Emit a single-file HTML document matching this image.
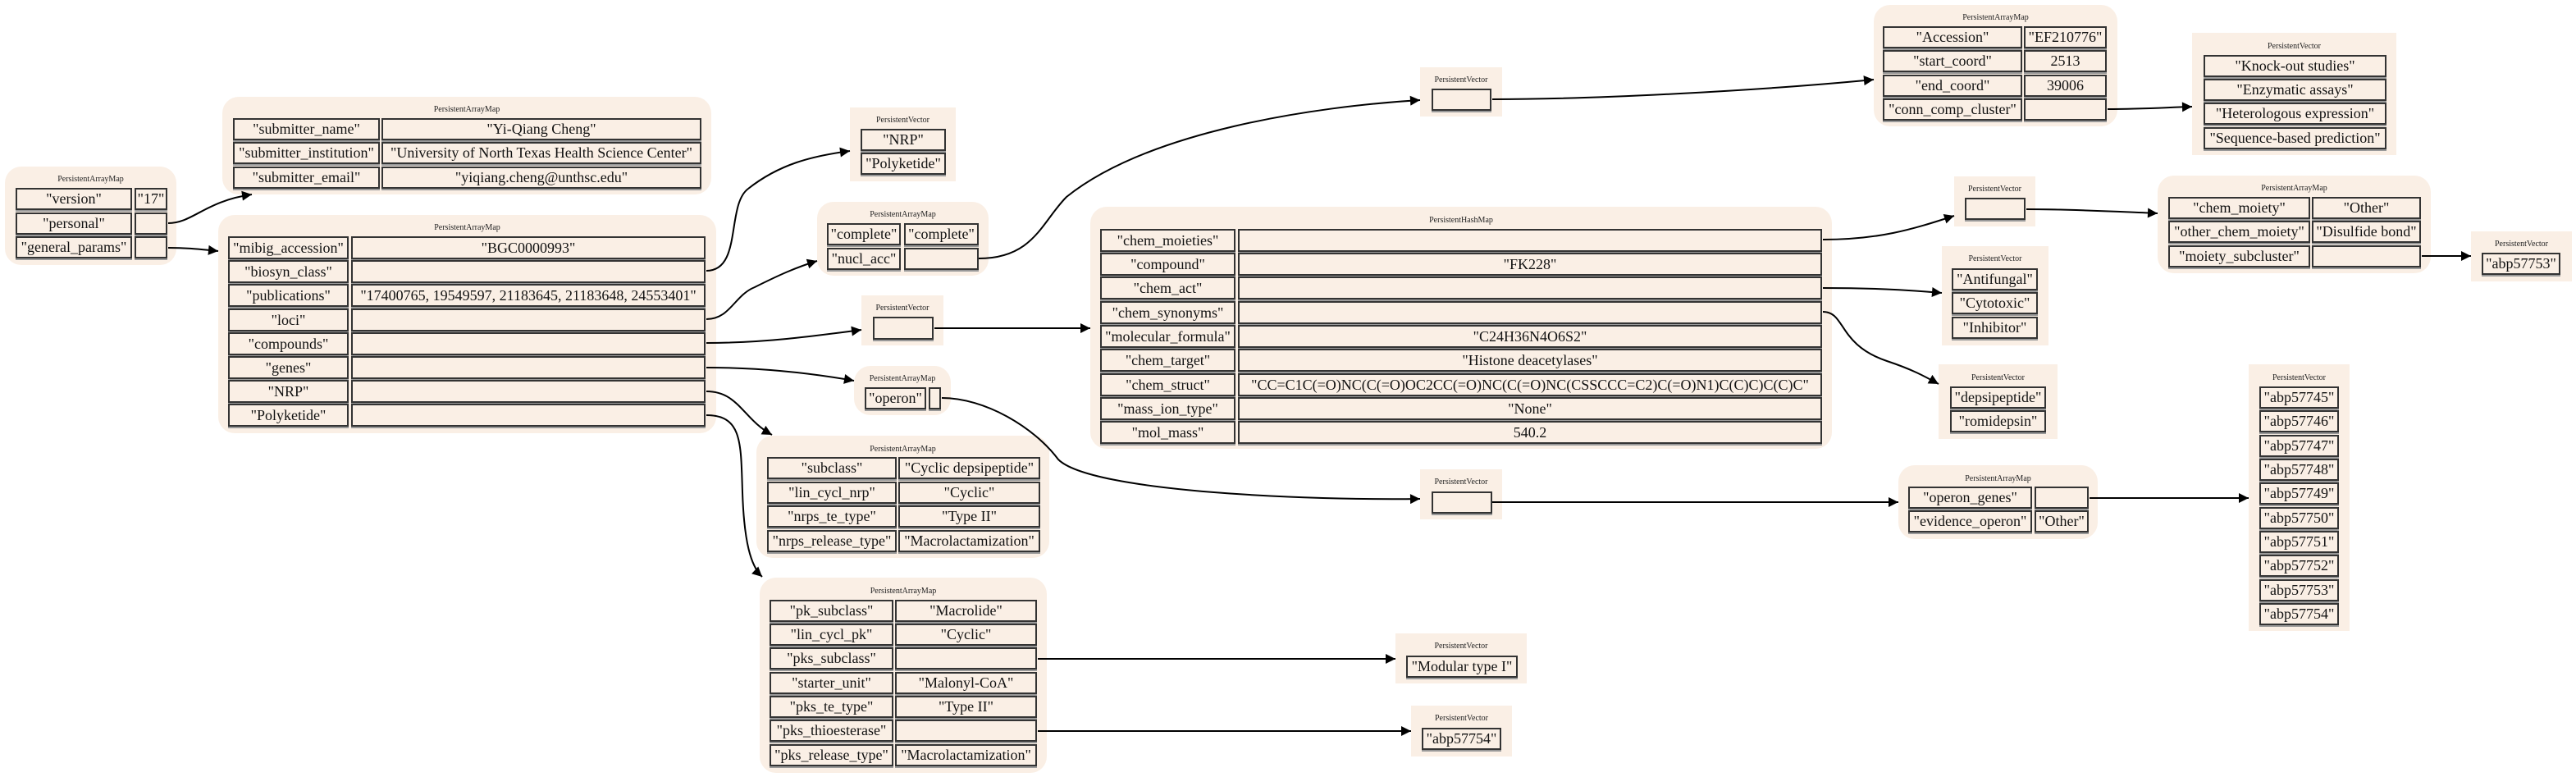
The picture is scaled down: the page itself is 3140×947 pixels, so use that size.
<!DOCTYPE html>
<html><head><meta charset="utf-8">
<style>
html,body{margin:0;padding:0;background:#fff;}
body{width:3140px;height:947px;position:relative;overflow:hidden;font-family:"Liberation Serif",serif;}
.b{position:absolute;background:#faefe5;}
.r{border-radius:20px;}
.t{position:absolute;font-size:10px;color:#222;text-align:center;white-space:nowrap;}
.c{position:absolute;box-sizing:border-box;border:2px solid #333;background:#faefe5;font-size:18px;display:flex;align-items:center;justify-content:center;white-space:nowrap;color:#111;overflow:visible;box-shadow:0 2px 0 #999;}
svg{position:absolute;left:0;top:0;}
</style></head><body>

<!-- left map -->
<div class="b r" style="left:6px;top:203px;width:209px;height:120px"></div>
<div class="t" style="left:6px;top:213px;width:209px">PersistentArrayMap</div>
<div class="c" style="left:19px;top:229px;width:142px;height:27px">"version"</div>
<div class="c" style="left:164px;top:229px;width:40px;height:27px">"17"</div>
<div class="c" style="left:19px;top:259px;width:142px;height:27px">"personal"</div>
<div class="c" style="left:164px;top:259px;width:40px;height:27px"></div>
<div class="c" style="left:19px;top:288px;width:142px;height:27px">"general_params"</div>
<div class="c" style="left:164px;top:288px;width:40px;height:27px"></div>

<!-- submitter -->
<div class="b r" style="left:271px;top:118px;width:596px;height:119px"></div>
<div class="t" style="left:271px;top:128px;width:596px">PersistentArrayMap</div>
<div class="c" style="left:284px;top:144px;width:179px;height:27px">"submitter_name"</div>
<div class="c" style="left:465px;top:144px;width:390px;height:27px">"Yi-Qiang Cheng"</div>
<div class="c" style="left:284px;top:173px;width:179px;height:27px">"submitter_institution"</div>
<div class="c" style="left:465px;top:173px;width:390px;height:27px">"University of North Texas Health Science Center"</div>
<div class="c" style="left:284px;top:203px;width:179px;height:27px">"submitter_email"</div>
<div class="c" style="left:465px;top:203px;width:390px;height:27px">"yiqiang.cheng@unthsc.edu"</div>

<!-- general params -->
<div class="b r" style="left:266px;top:262px;width:607px;height:266px"></div>
<div class="t" style="left:266px;top:272px;width:607px">PersistentArrayMap</div>
<div class="c" style="left:278px;top:288px;width:147px;height:28px">"mibig_accession"</div>
<div class="c" style="left:428px;top:288px;width:432px;height:28px">"BGC0000993"</div>
<div class="c" style="left:278px;top:317px;width:147px;height:28px">"biosyn_class"</div>
<div class="c" style="left:428px;top:317px;width:432px;height:28px"></div>
<div class="c" style="left:278px;top:346px;width:147px;height:28px">"publications"</div>
<div class="c" style="left:428px;top:346px;width:432px;height:28px">"17400765, 19549597, 21183645, 21183648, 24553401"</div>
<div class="c" style="left:278px;top:376px;width:147px;height:28px">"loci"</div>
<div class="c" style="left:428px;top:376px;width:432px;height:28px"></div>
<div class="c" style="left:278px;top:405px;width:147px;height:28px">"compounds"</div>
<div class="c" style="left:428px;top:405px;width:432px;height:28px"></div>
<div class="c" style="left:278px;top:434px;width:147px;height:28px">"genes"</div>
<div class="c" style="left:428px;top:434px;width:432px;height:28px"></div>
<div class="c" style="left:278px;top:463px;width:147px;height:28px">"NRP"</div>
<div class="c" style="left:428px;top:463px;width:432px;height:28px"></div>
<div class="c" style="left:278px;top:492px;width:147px;height:28px">"Polyketide"</div>
<div class="c" style="left:428px;top:492px;width:432px;height:28px"></div>

<!-- NRP vector -->
<div class="b" style="left:1036px;top:131px;width:129px;height:90px"></div>
<div class="t" style="left:1036px;top:141px;width:129px">PersistentVector</div>
<div class="c" style="left:1049px;top:157px;width:104px;height:27px">"NRP"</div>
<div class="c" style="left:1049px;top:186px;width:104px;height:27px">"Polyketide"</div>

<!-- complete map -->
<div class="b r" style="left:996px;top:246px;width:209px;height:90px"></div>
<div class="t" style="left:996px;top:256px;width:209px">PersistentArrayMap</div>
<div class="c" style="left:1008px;top:272px;width:90px;height:27px">"complete"</div>
<div class="c" style="left:1102px;top:272px;width:91px;height:27px">"complete"</div>
<div class="c" style="left:1008px;top:302px;width:90px;height:27px">"nucl_acc"</div>
<div class="c" style="left:1102px;top:302px;width:91px;height:27px"></div>

<!-- compounds PV -->
<div class="b" style="left:1050px;top:360px;width:100px;height:61px"></div>
<div class="t" style="left:1050px;top:370px;width:100px">PersistentVector</div>
<div class="c" style="left:1064px;top:386px;width:74px;height:28px"></div>

<!-- operon map -->
<div class="b r" style="left:1041px;top:446px;width:118px;height:60px"></div>
<div class="t" style="left:1041px;top:456px;width:118px">PersistentArrayMap</div>
<div class="c" style="left:1054px;top:472px;width:75px;height:27px">"operon"</div>
<div class="c" style="left:1132px;top:472px;width:15px;height:27px"></div>

<!-- top PV -->
<div class="b" style="left:1731px;top:82px;width:100px;height:60px"></div>
<div class="t" style="left:1731px;top:92px;width:100px">PersistentVector</div>
<div class="c" style="left:1745px;top:108px;width:73px;height:27px"></div>

<!-- hashmap -->
<div class="b r" style="left:1329px;top:252px;width:904px;height:295px"></div>
<div class="t" style="left:1329px;top:263px;width:904px">PersistentHashMap</div>
<div class="c" style="left:1341px;top:279px;width:165px;height:28px">"chem_moieties"</div>
<div class="c" style="left:1509px;top:279px;width:712px;height:28px"></div>
<div class="c" style="left:1341px;top:308px;width:165px;height:28px">"compound"</div>
<div class="c" style="left:1509px;top:308px;width:712px;height:28px">"FK228"</div>
<div class="c" style="left:1341px;top:337px;width:165px;height:28px">"chem_act"</div>
<div class="c" style="left:1509px;top:337px;width:712px;height:28px"></div>
<div class="c" style="left:1341px;top:367px;width:165px;height:28px">"chem_synonyms"</div>
<div class="c" style="left:1509px;top:367px;width:712px;height:28px"></div>
<div class="c" style="left:1341px;top:396px;width:165px;height:28px">"molecular_formula"</div>
<div class="c" style="left:1509px;top:396px;width:712px;height:28px">"C24H36N4O6S2"</div>
<div class="c" style="left:1341px;top:425px;width:165px;height:28px">"chem_target"</div>
<div class="c" style="left:1509px;top:425px;width:712px;height:28px">"Histone deacetylases"</div>
<div class="c" style="left:1341px;top:455px;width:165px;height:28px">"chem_struct"</div>
<div class="c" style="left:1509px;top:455px;width:712px;height:28px">"CC=C1C(=O)NC(C(=O)OC2CC(=O)NC(C(=O)NC(CSSCCC=C2)C(=O)N1)C(C)C)C(C)C"</div>
<div class="c" style="left:1341px;top:484px;width:165px;height:28px">"mass_ion_type"</div>
<div class="c" style="left:1509px;top:484px;width:712px;height:28px">"None"</div>
<div class="c" style="left:1341px;top:513px;width:165px;height:28px">"mol_mass"</div>
<div class="c" style="left:1509px;top:513px;width:712px;height:28px">540.2</div>

<!-- subclass map -->
<div class="b r" style="left:922px;top:531px;width:357px;height:149px"></div>
<div class="t" style="left:922px;top:542px;width:357px">PersistentArrayMap</div>
<div class="c" style="left:935px;top:557px;width:158px;height:27px">"subclass"</div>
<div class="c" style="left:1095px;top:557px;width:173px;height:27px">"Cyclic depsipeptide"</div>
<div class="c" style="left:935px;top:587px;width:158px;height:27px">"lin_cycl_nrp"</div>
<div class="c" style="left:1095px;top:587px;width:173px;height:27px">"Cyclic"</div>
<div class="c" style="left:935px;top:616px;width:158px;height:27px">"nrps_te_type"</div>
<div class="c" style="left:1095px;top:616px;width:173px;height:27px">"Type II"</div>
<div class="c" style="left:935px;top:646px;width:158px;height:27px">"nrps_release_type"</div>
<div class="c" style="left:1095px;top:646px;width:173px;height:27px">"Macrolactamization"</div>

<!-- pk map -->
<div class="b r" style="left:926px;top:704px;width:350px;height:238px"></div>
<div class="t" style="left:926px;top:715px;width:350px">PersistentArrayMap</div>
<div class="c" style="left:938px;top:731px;width:151px;height:27px">"pk_subclass"</div>
<div class="c" style="left:1091px;top:731px;width:173px;height:27px">"Macrolide"</div>
<div class="c" style="left:938px;top:760px;width:151px;height:27px">"lin_cycl_pk"</div>
<div class="c" style="left:1091px;top:760px;width:173px;height:27px">"Cyclic"</div>
<div class="c" style="left:938px;top:789px;width:151px;height:27px">"pks_subclass"</div>
<div class="c" style="left:1091px;top:789px;width:173px;height:27px"></div>
<div class="c" style="left:938px;top:819px;width:151px;height:27px">"starter_unit"</div>
<div class="c" style="left:1091px;top:819px;width:173px;height:27px">"Malonyl-CoA"</div>
<div class="c" style="left:938px;top:848px;width:151px;height:27px">"pks_te_type"</div>
<div class="c" style="left:1091px;top:848px;width:173px;height:27px">"Type II"</div>
<div class="c" style="left:938px;top:877px;width:151px;height:27px">"pks_thioesterase"</div>
<div class="c" style="left:1091px;top:877px;width:173px;height:27px"></div>
<div class="c" style="left:938px;top:907px;width:151px;height:27px">"pks_release_type"</div>
<div class="c" style="left:1091px;top:907px;width:173px;height:27px">"Macrolactamization"</div>

<!-- Modular PV -->
<div class="b" style="left:1701px;top:772px;width:160px;height:61px"></div>
<div class="t" style="left:1701px;top:782px;width:160px">PersistentVector</div>
<div class="c" style="left:1714px;top:799px;width:136px;height:27px">"Modular type I"</div>

<!-- abp57754 PV -->
<div class="b" style="left:1720px;top:860px;width:123px;height:62px"></div>
<div class="t" style="left:1720px;top:870px;width:123px">PersistentVector</div>
<div class="c" style="left:1733px;top:887px;width:97px;height:27px">"abp57754"</div>

<!-- mid PV -->
<div class="b" style="left:1731px;top:572px;width:100px;height:61px"></div>
<div class="t" style="left:1731px;top:582px;width:100px">PersistentVector</div>
<div class="c" style="left:1745px;top:599px;width:74px;height:27px"></div>

<!-- Accession map -->
<div class="b r" style="left:2284px;top:6px;width:297px;height:148px"></div>
<div class="t" style="left:2284px;top:16px;width:297px">PersistentArrayMap</div>
<div class="c" style="left:2295px;top:32px;width:170px;height:27px">"Accession"</div>
<div class="c" style="left:2467px;top:32px;width:101px;height:27px">"EF210776"</div>
<div class="c" style="left:2295px;top:61px;width:170px;height:27px">"start_coord"</div>
<div class="c" style="left:2467px;top:61px;width:101px;height:27px">2513</div>
<div class="c" style="left:2295px;top:91px;width:170px;height:27px">"end_coord"</div>
<div class="c" style="left:2467px;top:91px;width:101px;height:27px">39006</div>
<div class="c" style="left:2295px;top:120px;width:170px;height:27px">"conn_comp_cluster"</div>
<div class="c" style="left:2467px;top:120px;width:101px;height:27px"></div>

<!-- methods PV -->
<div class="b" style="left:2672px;top:40px;width:249px;height:149px"></div>
<div class="t" style="left:2672px;top:51px;width:249px">PersistentVector</div>
<div class="c" style="left:2686px;top:67px;width:223px;height:27px">"Knock-out studies"</div>
<div class="c" style="left:2686px;top:96px;width:223px;height:27px">"Enzymatic assays"</div>
<div class="c" style="left:2686px;top:125px;width:223px;height:27px">"Heterologous expression"</div>
<div class="c" style="left:2686px;top:155px;width:223px;height:27px">"Sequence-based prediction"</div>

<!-- chem_moieties PV -->
<div class="b" style="left:2382px;top:215px;width:99px;height:61px"></div>
<div class="t" style="left:2382px;top:225px;width:99px">PersistentVector</div>
<div class="c" style="left:2395px;top:241px;width:74px;height:27px"></div>

<!-- moiety map -->
<div class="b r" style="left:2630px;top:214px;width:333px;height:119px"></div>
<div class="t" style="left:2630px;top:224px;width:333px">PersistentArrayMap</div>
<div class="c" style="left:2643px;top:240px;width:173px;height:27px">"chem_moiety"</div>
<div class="c" style="left:2818px;top:240px;width:133px;height:27px">"Other"</div>
<div class="c" style="left:2643px;top:269px;width:173px;height:27px">"other_chem_moiety"</div>
<div class="c" style="left:2818px;top:269px;width:133px;height:27px">"Disulfide bond"</div>
<div class="c" style="left:2643px;top:299px;width:173px;height:27px">"moiety_subcluster"</div>
<div class="c" style="left:2818px;top:299px;width:133px;height:27px"></div>

<!-- abp57753 -->
<div class="b" style="left:3012px;top:282px;width:123px;height:61px"></div>
<div class="t" style="left:3012px;top:292px;width:123px">PersistentVector</div>
<div class="c" style="left:3025px;top:308px;width:96px;height:27px">"abp57753"</div>

<!-- Antifungal PV -->
<div class="b" style="left:2367px;top:300px;width:130px;height:121px"></div>
<div class="t" style="left:2367px;top:310px;width:130px">PersistentVector</div>
<div class="c" style="left:2379px;top:327px;width:105px;height:27px">"Antifungal"</div>
<div class="c" style="left:2379px;top:356px;width:105px;height:27px">"Cytotoxic"</div>
<div class="c" style="left:2379px;top:386px;width:105px;height:27px">"Inhibitor"</div>

<!-- depsi PV -->
<div class="b" style="left:2363px;top:444px;width:145px;height:91px"></div>
<div class="t" style="left:2363px;top:455px;width:145px">PersistentVector</div>
<div class="c" style="left:2377px;top:471px;width:117px;height:27px">"depsipeptide"</div>
<div class="c" style="left:2377px;top:500px;width:117px;height:27px">"romidepsin"</div>

<!-- operon_genes map -->
<div class="b r" style="left:2314px;top:567px;width:243px;height:90px"></div>
<div class="t" style="left:2314px;top:578px;width:243px">PersistentArrayMap</div>
<div class="c" style="left:2326px;top:593px;width:151px;height:27px">"operon_genes"</div>
<div class="c" style="left:2480px;top:593px;width:66px;height:27px"></div>
<div class="c" style="left:2326px;top:622px;width:151px;height:27px">"evidence_operon"</div>
<div class="c" style="left:2480px;top:622px;width:66px;height:27px">"Other"</div>

<!-- abp list -->
<div class="b" style="left:2741px;top:444px;width:123px;height:325px"></div>
<div class="t" style="left:2741px;top:455px;width:123px">PersistentVector</div>
<div class="c" style="left:2754px;top:471px;width:97px;height:27px">"abp57745"</div>
<div class="c" style="left:2754px;top:500px;width:97px;height:27px">"abp57746"</div>
<div class="c" style="left:2754px;top:530px;width:97px;height:27px">"abp57747"</div>
<div class="c" style="left:2754px;top:559px;width:97px;height:27px">"abp57748"</div>
<div class="c" style="left:2754px;top:588px;width:97px;height:27px">"abp57749"</div>
<div class="c" style="left:2754px;top:618px;width:97px;height:27px">"abp57750"</div>
<div class="c" style="left:2754px;top:647px;width:97px;height:27px">"abp57751"</div>
<div class="c" style="left:2754px;top:676px;width:97px;height:27px">"abp57752"</div>
<div class="c" style="left:2754px;top:706px;width:97px;height:27px">"abp57753"</div>
<div class="c" style="left:2754px;top:735px;width:97px;height:27px">"abp57754"</div>

<svg width="3140" height="947" viewBox="0 0 3140 947">
<defs><marker id="a" viewBox="0 0 10 10" refX="10" refY="5" markerWidth="7" markerHeight="6" markerUnits="strokeWidth" orient="auto"><path d="M0,0 L10,5 L0,10 z" fill="#000"/></marker></defs>
<g fill="none" stroke="#000" stroke-width="2" marker-end="url(#a)">
<path d="M205,272 C235,272 250,245 307,237"/>
<path d="M205,302 C230,302 245,304 266,306"/>
<path d="M861,330 C905,330 885,250 912,230 C950,200 990,190 1036,184"/>
<path d="M861,389 C890,389 895,360 920,350 C950,335 970,326 996,318"/>
<path d="M861,418 C930,418 990,410 1050,402"/>
<path d="M861,448 C930,448 990,455 1041,464"/>
<path d="M861,477 C900,477 905,510 941,530"/>
<path d="M861,506 C905,506 903,540 905,600 C907,660 915,690 929,703"/>
<path d="M1193,315 C1260,315 1270,270 1300,240 C1400,160 1600,130 1731,122"/>
<path d="M1139,400 L1329,400"/>
<path d="M1148,485 C1200,485 1260,520 1290,560 C1330,600 1600,610 1731,608"/>
<path d="M1819,121 C1950,121 2150,110 2284,97"/>
<path d="M2569,133 C2610,133 2640,131 2672,130"/>
<path d="M2222,292 C2290,292 2330,280 2382,263"/>
<path d="M2470,255 C2530,255 2580,258 2630,260"/>
<path d="M2952,312 L3012,312"/>
<path d="M2222,351 C2280,351 2320,353 2367,357"/>
<path d="M2222,380 C2250,380 2240,420 2300,440 C2330,450 2345,458 2363,468"/>
<path d="M1819,612 L2314,612"/>
<path d="M2547,607 L2741,607"/>
<path d="M1265,803 L1701,803"/>
<path d="M1265,891 L1720,891"/>
</g>
</svg>
</body></html>
